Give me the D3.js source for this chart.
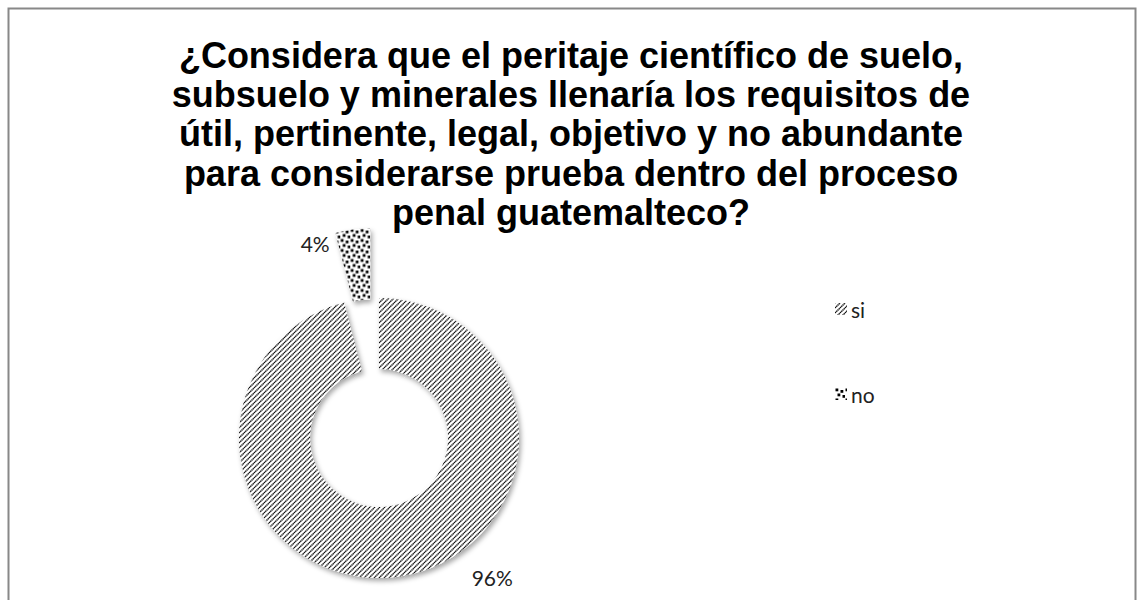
<!DOCTYPE html>
<html>
<head>
    <meta charset="utf-8">
    <script src="https://cdn.jsdelivr.net/npm/d3@7"></script>
    <style>
        body, html {
            margin: 0;
            background: #fff;
            overflow: hidden;
        }
        .title { font-family: "Liberation Sans", Arial, sans-serif; font-weight: bold; font-size: 36px; fill: #000; }
        .lbl { font-family: Lato, "Open Sans", sans-serif; font-size: 21px; fill: #222; }
        .leg { font-family: Lato, "Open Sans", sans-serif; font-size: 21px; fill: #222; }
    </style>
</head>
<body>
<div id="chart"></div>
<script>
    // data
    const categories = ["si", "no"];
    const values = [96, 4];
    const valueLabels = ["96%", "4%"];
    const titleLines = [
        "¿Considera que el peritaje científico de suelo,",
        "subsuelo y minerales llenaría los requisitos de",
        "útil, pertinente, legal, objetivo y no abundante",
        "para considerarse prueba dentro del proceso",
        "penal guatemalteco?"
    ];

    const width = 1142, height = 600;
    const cx = 379, cy = 438;           // donut centre
    const outerR = 140, innerR = 69;
    const explode = [0, 0.5];           // slice pull-out, fraction of outer radius

    const svg = d3.select("#chart").append("svg")
        .attr("width", width)
        .attr("height", height);

    const defs = svg.append("defs");

    // "si" pattern: dotted upward diagonal hatch
    const pSi = defs.append("pattern")
        .attr("id", "pat-si")
        .attr("patternUnits", "userSpaceOnUse")
        .attr("width", 5).attr("height", 5);
    pSi.append("rect").attr("width", 5).attr("height", 5).attr("fill", "#fff");
    pSi.append("path")
        .attr("d", "M-1,1 L1,-1 M0,5 L5,0 M4,6 L6,4")
        .attr("stroke", "#111")
        .attr("stroke-width", 1.4)
        .attr("stroke-dasharray", "1.3 0.5");

    // "no" pattern: black squares (confetti)
    const pNo = defs.append("pattern")
        .attr("id", "pat-no")
        .attr("patternUnits", "userSpaceOnUse")
        .attr("width", 10).attr("height", 10);
    pNo.append("rect").attr("width", 10).attr("height", 10).attr("fill", "#fff");
    [[0.5, 0.5], [5.5, 2], [2.5, 5.5], [7.5, 7]].forEach(p => {
        pNo.append("rect")
            .attr("x", p[0]).attr("y", p[1])
            .attr("width", 2.8).attr("height", 2.8)
            .attr("fill", "#000");
    });

    const shadow = defs.append("filter")
        .attr("id", "shadow")
        .attr("x", "-20%").attr("y", "-20%")
        .attr("width", "140%").attr("height", "140%");
    shadow.append("feDropShadow")
        .attr("dx", 2).attr("dy", 3)
        .attr("stdDeviation", 2.5)
        .attr("flood-color", "#000")
        .attr("flood-opacity", 0.35);

    const fills = d3.scaleOrdinal()
        .domain(categories)
        .range(["url(#pat-si)", "url(#pat-no)"]);

    // frame
    svg.append("rect")
        .attr("x", 8.5).attr("y", 8.5)
        .attr("width", 1127).attr("height", 600)
        .attr("fill", "none")
        .attr("stroke", "#888")
        .attr("stroke-width", 2);

    // title
    svg.append("text")
        .attr("class", "title")
        .attr("text-anchor", "middle")
        .selectAll("tspan")
        .data(titleLines)
        .join("tspan")
        .attr("x", 571)
        .attr("y", (d, i) => 68 + i * 39.2)
        .text(d => d);

    const pieData = d3.pie().sort(null).value(d => d.v)(
        categories.map((c, i) => ({ c: c, v: values[i], label: valueLabels[i], ex: explode[i] }))
    );

    const arc = d3.arc().innerRadius(innerR).outerRadius(outerR);

    const g = svg.append("g").attr("transform", `translate(${cx},${cy})`);

    function offset(d) {
        const a = (d.startAngle + d.endAngle) / 2;
        const r = d.data.ex * outerR;
        return [r * Math.sin(a), -r * Math.cos(a)];
    }

    g.selectAll("path.slice")
        .data(pieData)
        .join("path")
        .attr("class", "slice")
        .attr("d", arc)
        .attr("transform", d => `translate(${offset(d)})`)
        .attr("fill", d => fills(d.data.c))
        .attr("filter", "url(#shadow)");

    // value labels, placed around the slices like the best-fit labels
    const labelPos = d => {
        if (d.data.ex > 0) {
            const o = offset(d);
            const c = arc.centroid(d);
            return [o[0] + c[0] - 42, o[1] + c[1] - 21];
        }
        const a = d.startAngle + 0.408 * (d.endAngle - d.startAngle);
        const r = outerR + 40;
        return [r * Math.sin(a), -r * Math.cos(a)];
    };

    g.selectAll("text.lbl")
        .data(pieData)
        .join("text")
        .attr("class", "lbl")
        .attr("text-anchor", "middle")
        .attr("dominant-baseline", "central")
        .attr("x", d => labelPos(d)[0])
        .attr("y", d => labelPos(d)[1])
        .text(d => d.data.label);

    // legend
    const leg = svg.append("g").attr("transform", "translate(835,303)");
    const item = leg.selectAll("g")
        .data(categories)
        .join("g")
        .attr("transform", (d, i) => `translate(0,${i * 85})`);
    item.append("rect")
        .attr("width", 12).attr("height", 12)
        .attr("fill", d => fills(d));
    item.append("text")
        .attr("class", "leg")
        .attr("x", 16)
        .attr("y", 6)
        .attr("dominant-baseline", "central")
        .text(d => d);
</script>
</body>
</html>
